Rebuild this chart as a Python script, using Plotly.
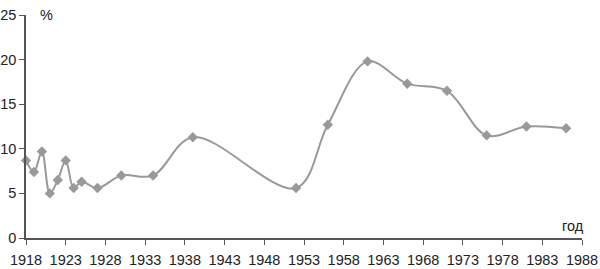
import plotly.graph_objects as go

years = [1918, 1919, 1920, 1921, 1922, 1923, 1924, 1925, 1927, 1930, 1934, 1939,
         1952, 1956, 1961, 1966, 1971, 1976, 1981, 1986]
values = [8.7, 7.4, 9.7, 5.0, 6.5, 8.7, 5.6, 6.3, 5.6, 7.0, 7.0, 11.3,
          5.6, 12.7, 19.8, 17.3, 16.5, 11.5, 12.5, 12.3]
x_ticks = list(range(1918, 1989, 5))
y_ticks = [0, 5, 10, 15, 20, 25]

FONT = dict(family="Liberation Sans", size=14.5, color="#222222")

fig = go.Figure()
fig.add_trace(go.Scatter(
    x=years, y=values, mode="lines+markers",
    line=dict(color="#999999", width=2, shape="spline", smoothing=1.0),
    marker=dict(symbol="diamond", size=8, color="#999999"),
    showlegend=False, cliponaxis=False,
))

axis_common = dict(showgrid=False, zeroline=False, showline=True, linecolor="#555555",
                   linewidth=1.5, ticks="outside", ticklen=5, tickwidth=1.2, automargin=False,
                   tickcolor="#555555", tickfont=FONT)

fig.update_xaxes(range=[1918, 1988], tickvals=x_ticks, ticktext=[str(t) for t in x_ticks],
                 ticklabelstandoff=3, **axis_common)
fig.update_yaxes(range=[0, 25], tickvals=y_ticks, ticktext=[str(t) for t in y_ticks], **axis_common)

fig.add_annotation(text="%", xref="paper", yref="paper", x=0.022, y=1.0, xanchor="left", yanchor="middle",
                   showarrow=False, font=FONT)
fig.add_annotation(text="год", xref="paper", yref="paper", x=1.008, y=0.055, xanchor="right", yanchor="middle",
                   showarrow=False, font=FONT)

fig.update_layout(
    width=600, height=269,
    margin=dict(l=26, r=18, t=15, b=31),
    paper_bgcolor="white", plot_bgcolor="white",
)

fig.write_html("out.html")
